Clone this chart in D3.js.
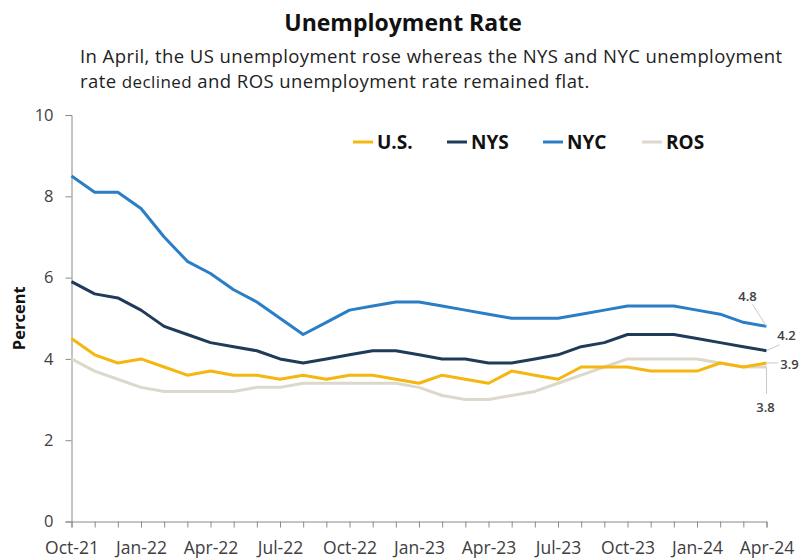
<!DOCTYPE html>
<html>
<head>
<meta charset="utf-8">
<script src="https://cdn.jsdelivr.net/npm/d3@7"></script>
<style>
  html, body { margin: 0; padding: 0; background: #fff; }
  svg { display: block; font-family: "Open Sans", "Noto Sans", sans-serif; }
</style>
</head>
<body>
<svg id="chart" width="806" height="559"></svg>
<script>
// Monthly unemployment rates, Oct-21 through Apr-24
const months = ["Oct-21","Nov-21","Dec-21","Jan-22","Feb-22","Mar-22","Apr-22","May-22","Jun-22","Jul-22","Aug-22","Sep-22",
  "Oct-22","Nov-22","Dec-22","Jan-23","Feb-23","Mar-23","Apr-23","May-23","Jun-23","Jul-23","Aug-23","Sep-23",
  "Oct-23","Nov-23","Dec-23","Jan-24","Feb-24","Mar-24","Apr-24"];
const tickLabels = ["Oct-21","Jan-22","Apr-22","Jul-22","Oct-22","Jan-23","Apr-23","Jul-23","Oct-23","Jan-24","Apr-24"];
const yTicks = [0, 2, 4, 6, 8, 10];

const seriesNames = ["U.S.", "NYS", "NYC", "ROS"];
const us  = [4.5,4.1,3.9,4.0,3.8,3.6,3.7,3.6,3.6,3.5,3.6,3.5,3.6,3.6,3.5,3.4,3.6,3.5,3.4,3.7,3.6,3.5,3.8,3.8,3.8,3.7,3.7,3.7,3.9,3.8,3.9];
const nys = [5.9,5.6,5.5,5.2,4.8,4.6,4.4,4.3,4.2,4.0,3.9,4.0,4.1,4.2,4.2,4.1,4.0,4.0,3.9,3.9,4.0,4.1,4.3,4.4,4.6,4.6,4.6,4.5,4.4,4.3,4.2];
const nyc = [8.5,8.1,8.1,7.7,7.0,6.4,6.1,5.7,5.4,5.0,4.6,4.9,5.2,5.3,5.4,5.4,5.3,5.2,5.1,5.0,5.0,5.0,5.1,5.2,5.3,5.3,5.3,5.2,5.1,4.9,4.8];
const ros = [4.0,3.7,3.5,3.3,3.2,3.2,3.2,3.2,3.3,3.3,3.4,3.4,3.4,3.4,3.4,3.3,3.1,3.0,3.0,3.1,3.2,3.4,3.6,3.8,4.0,4.0,4.0,4.0,3.9,3.8,3.8];

const colors = { "U.S.": "#f4b60f", "NYS": "#203a5a", "NYC": "#2a7ec6", "ROS": "#dcd9cb" };
const seriesValues = { "U.S.": us, "NYS": nys, "NYC": nyc, "ROS": ros };
// drawing order: ROS underneath, then U.S., NYS, NYC
const drawOrder = ["ROS", "U.S.", "NYS", "NYC"];

const svg = d3.select("#chart");
const plotLeft = 71.5, plotRight = 766.5, plotTop = 115, plotBottom = 521.5;

const x = d3.scalePoint().domain(months).range([plotLeft, plotRight]);
const y = d3.scaleLinear().domain([0, 10]).range([plotBottom, plotTop]);

// Title and subtitle
svg.append("text")
  .attr("x", 403).attr("y", 31)
  .attr("text-anchor", "middle")
  .attr("font-size", 23).attr("font-weight", 700).attr("fill", "#111")
  .text("Unemployment Rate");

svg.append("text")
  .attr("x", 80).attr("y", 62.5)
  .attr("font-size", 18.5).attr("letter-spacing", 0.42).attr("fill", "#222")
  .text("In April, the US unemployment rose whereas the NYS and NYC unemployment");
const line2 = svg.append("text")
  .attr("x", 80).attr("y", 88)
  .attr("font-size", 18.5).attr("letter-spacing", 0.42).attr("fill", "#222");
line2.append("tspan").text("rate ");
line2.append("tspan").attr("font-size", 17).text("declined");
line2.append("tspan").text(" and ROS unemployment rate remained flat.");

// Y axis
const yAxis = svg.append("g")
  .attr("transform", `translate(${plotLeft},0)`)
  .call(d3.axisLeft(y).tickValues(yTicks).tickSize(6).tickPadding(12).tickFormat(d3.format("d")));
yAxis.select(".domain").attr("stroke", "#8a8a8a");
yAxis.selectAll(".tick line").attr("stroke", "#8a8a8a");
yAxis.selectAll(".tick text").attr("font-size", 16.5).attr("fill", "#404040")
  .attr("font-family", "\"Open Sans\", sans-serif");

svg.append("text")
  .attr("transform", `translate(25,${(plotTop + plotBottom) / 2}) rotate(-90)`)
  .attr("text-anchor", "middle")
  .attr("font-size", 16.5).attr("font-weight", 700).attr("fill", "#111")
  .text("Percent");

// X axis: a tick every month, a label every quarter
const xAxis = svg.append("g")
  .attr("transform", `translate(0,${plotBottom})`)
  .call(d3.axisBottom(x).tickValues(months).tickSize(6).tickPadding(14)
    .tickFormat(d => tickLabels.includes(d) ? d : ""));
xAxis.select(".domain").attr("stroke", "#8a8a8a");
xAxis.selectAll(".tick line").attr("stroke", "#8a8a8a");
xAxis.selectAll(".tick text").attr("font-size", 17.5).attr("fill", "#404040")
  .attr("font-family", "\"Open Sans\", sans-serif");

// Lines
const line = d3.line().x((d, i) => x(months[i])).y(d => y(d));
svg.append("g").selectAll("path")
  .data(drawOrder)
  .join("path")
  .attr("d", name => line(seriesValues[name]))
  .attr("fill", "none")
  .attr("stroke", name => colors[name])
  .attr("stroke-width", 3)
  .attr("stroke-linejoin", "round");

// Legend
const legendX = { "U.S.": 353, "NYS": 447, "NYC": 543, "ROS": 642 };
const legend = svg.append("g").attr("transform", "translate(0,142)");
seriesNames.forEach(name => {
  const g = legend.append("g").attr("transform", `translate(${legendX[name]},0)`);
  g.append("line").attr("x1", 0).attr("x2", 20).attr("y1", 0).attr("y2", 0)
    .attr("stroke", colors[name]).attr("stroke-width", 3);
  g.append("text").attr("x", 24).attr("y", 7)
    .attr("font-size", 19).attr("font-weight", 700).attr("fill", "#111")
    .text(name);
});

// End-of-series value labels with leader lines
const last = months.length - 1;
const endLabels = [
  { name: "NYC", dx1: -14, dy1: -22, tx: -19, ty: -25, anchor: "middle" },
  { name: "NYS", dx1: 13, dy1: -6, tx: 20, ty: -11, anchor: "middle" },
  { name: "U.S.", dx1: 12, dy1: 0, tx: 23, ty: 6, anchor: "middle" },
  { name: "ROS", dx1: 0, dy1: 27, tx: -1, ty: 45, anchor: "middle" }
];
const ann = svg.append("g");
endLabels.forEach(l => {
  const v = seriesValues[l.name][last];
  const px = x(months[last]), py = y(v);
  ann.append("line")
    .attr("x1", px).attr("y1", py)
    .attr("x2", px + l.dx1).attr("y2", py + l.dy1)
    .attr("stroke", "#c8c8c8").attr("stroke-width", 1);
  ann.append("text")
    .attr("x", px + l.tx).attr("y", py + l.ty)
    .attr("text-anchor", l.anchor)
    .attr("font-size", 13).attr("font-weight", 600).attr("fill", "#404040")
    .text(d3.format(".1f")(v));
});
</script>
</body>
</html>
